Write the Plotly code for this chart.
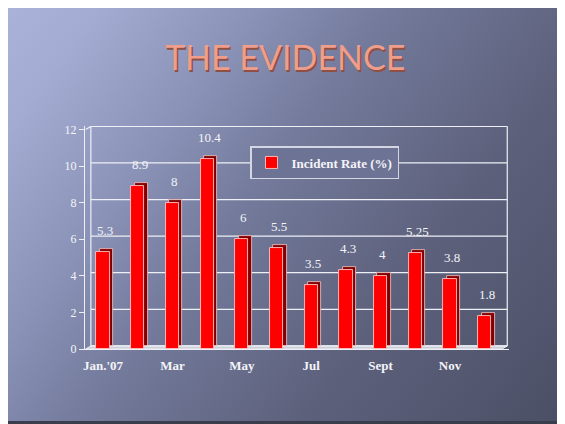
import base64
import plotly.graph_objects as go

# ---------------- data ----------------
MONTHS = ["Jan.'07", "Feb", "Mar", "Apr", "May", "Jun", "Jul", "Aug", "Sept", "Oct", "Nov", "Dec"]
TICK_TEXT = ["Jan.'07", "", "Mar", "", "May", "", "Jul", "", "Sept", "", "Nov", ""]
INCIDENT_RATE = [5.3, 8.9, 8, 10.4, 6, 5.5, 3.5, 4.3, 4, 5.25, 3.8, 1.8]
VALUE_LABELS = ["5.3", "8.9", "8", "10.4", "6", "5.5", "3.5", "4.3", "4", "5.25", "3.8", "1.8"]
Y_TICKS = [0, 2, 4, 6, 8, 10, 12]
SERIES_NAME = "Incident Rate (%)"
TITLE = "THE EVIDENCE"

# ---------------- layout constants ----------------
OFF = 8                      # page body margin
W, H = 565 - OFF, 424 - OFF
PLOT_L, PLOT_R, PLOT_T, PLOT_B = 85, 509, 126, 349   # page pixels
ML, MT = PLOT_L - OFF, PLOT_T - OFF
MR, MB = W - (PLOT_R - OFF), H - (PLOT_B - OFF)
PW, PH = W - ML - MR, H - MT - MB
XR = [-0.519, 11.70]
YR = [0, 12.19]
DXB, DYB = 0.10, 0.17      # bar depth
DXW, DYW = 0.15, 0.17      # wall depth
LINE = "#eef0f6"
TXT = "#f4f4f8"
SERIF = "Liberation Serif, DejaVu Serif, serif"

def px2paper_x(px):
    return (px - OFF - ML) / PW

def px2paper_y(py):
    return (H - MB - (py - OFF)) / PH

idx = list(range(len(MONTHS)))

# ---------------- background (slide) ----------------
svg = f'''<svg xmlns="http://www.w3.org/2000/svg" width="{W}" height="{H}" viewBox="0 0 {W} {H}" preserveAspectRatio="none">
<defs>
<linearGradient id="g" gradientUnits="userSpaceOnUse" x1="-8" y1="-8" x2="{W}" y2="{H}">
<stop offset="0" stop-color="#abb3db"/>
<stop offset="0.12" stop-color="#a3abd2"/>
<stop offset="0.30" stop-color="#8a92b7"/>
<stop offset="0.45" stop-color="#737a9b"/>
<stop offset="0.70" stop-color="#5c607b"/>
<stop offset="1" stop-color="#4b4f65"/>
</linearGradient>
</defs>
<rect width="{W}" height="{H}" fill="url(#g)"/>
<rect x="0" y="{H-3}" width="{W}" height="3" fill="#3a3d4c"/>
<rect x="{W-2}" y="0" width="2" height="{H}" fill="#6a6e84"/>
</svg>'''
bg_uri = "data:image/svg+xml;base64," + base64.b64encode(svg.encode()).decode()

fig = go.Figure()

# depth (side/top faces) of the bars
fig.add_trace(go.Bar(
    x=[i + DXB for i in idx], y=INCIDENT_RATE, base=DYB, width=0.38,
    marker=dict(color="#840000", line=dict(color="#f3c8c8", width=0.8)),
    showlegend=False, hoverinfo="skip",
))
# front faces
fig.add_trace(go.Bar(
    x=idx, y=INCIDENT_RATE, width=0.38, name=SERIES_NAME,
    marker=dict(color="#ff0000", line=dict(color="#ffc4c4", width=0.9)),
))

shapes = []
# floor
shapes.append(dict(type="path", xref="x", yref="y", layer="below",
                   path=f"M -0.5,0 L 11.5,0 L {11.5+DXW},{DYW} L {-0.5+DXW},{DYW} Z",
                   fillcolor="rgba(215,217,226,0.9)", line=dict(color=LINE, width=1)))
# back-wall gridlines
for v in Y_TICKS:
    shapes.append(dict(type="line", xref="x", yref="y", layer="below",
                       x0=-0.5 + DXW, x1=11.5 + DXW, y0=v + DYW, y1=v + DYW,
                       line=dict(color=LINE, width=1.2)))
# wall verticals & corner slants
shapes.append(dict(type="line", xref="x", yref="y", layer="below",
                   x0=-0.5 + DXW, x1=-0.5 + DXW, y0=DYW, y1=12 + DYW, line=dict(color=LINE, width=1.2)))
shapes.append(dict(type="line", xref="x", yref="y", layer="below",
                   x0=11.5 + DXW, x1=11.5 + DXW, y0=DYW, y1=12 + DYW, line=dict(color=LINE, width=1.2)))
shapes.append(dict(type="line", xref="x", yref="y", layer="below",
                   x0=-0.5, x1=-0.5 + DXW, y0=12, y1=12 + DYW, line=dict(color=LINE, width=1.2)))
# x tick marks at category boundaries
for k in range(len(MONTHS) + 1):
    shapes.append(dict(type="line", xref="x", yref="y", ysizemode="pixel", yanchor=0,
                       x0=k - 0.5, x1=k - 0.5, y0=0, y1=-4, line=dict(color=LINE, width=1.2)))

annotations = []
# value labels
for i, v, t in zip(idx, INCIDENT_RATE, VALUE_LABELS):
    annotations.append(dict(x=i, y=v, xref="x", yref="y", text=t, showarrow=False,
                            yanchor="bottom", yshift=12, xshift=2,
                            font=dict(family=SERIF, size=13, color=TXT)))
# title
annotations.append(dict(x=px2paper_x(285), y=px2paper_y(56), xref="paper", yref="paper",
                        text=TITLE, showarrow=False, xanchor="center", yanchor="middle",
                        font=dict(family="Lato, Open Sans, sans-serif", size=34, color="#f09e8c",
                                  shadow="1.5px 1.5px 0px #8e5044")))

fig.update_layout(
    width=W, height=H,
    margin=dict(l=ML, r=MR, t=MT, b=MB, pad=0),
    paper_bgcolor="#5c6180",
    plot_bgcolor="rgba(0,0,0,0)",
    barmode="overlay",
    bargap=0,
    shapes=shapes,
    annotations=annotations,
    images=[dict(source=bg_uri, xref="paper", yref="paper",
                 x=-ML / PW, y=1 + MT / PH, sizex=W / PW, sizey=H / PH,
                 xanchor="left", yanchor="top", sizing="stretch", layer="below")],
    legend=dict(x=px2paper_x(250), y=px2paper_y(146), xanchor="left", yanchor="top",
                bgcolor="#6d7395", bordercolor="#d4d6e2", borderwidth=1.5,
                font=dict(family=SERIF, size=13, color=TXT, weight="bold"),
                tracegroupgap=0, itemwidth=30),
    xaxis=dict(range=XR, tickvals=idx, ticktext=TICK_TEXT, ticks="outside", ticklen=4,
               tickcolor="rgba(0,0,0,0)", showgrid=False, zeroline=False,
               showline=True, linecolor=LINE, linewidth=1.2,
               tickfont=dict(family=SERIF, size=13, color=TXT, weight="bold")),
    yaxis=dict(range=YR, tickvals=Y_TICKS, ticks="outside", ticklen=5, tickcolor=LINE, tickwidth=1.2,
               showgrid=False, zeroline=False, showline=True, linecolor=LINE, linewidth=1.2,
               tickfont=dict(family=SERIF, size=12, color=TXT)),
    showlegend=True,
)

fig.write_html("out.html")
